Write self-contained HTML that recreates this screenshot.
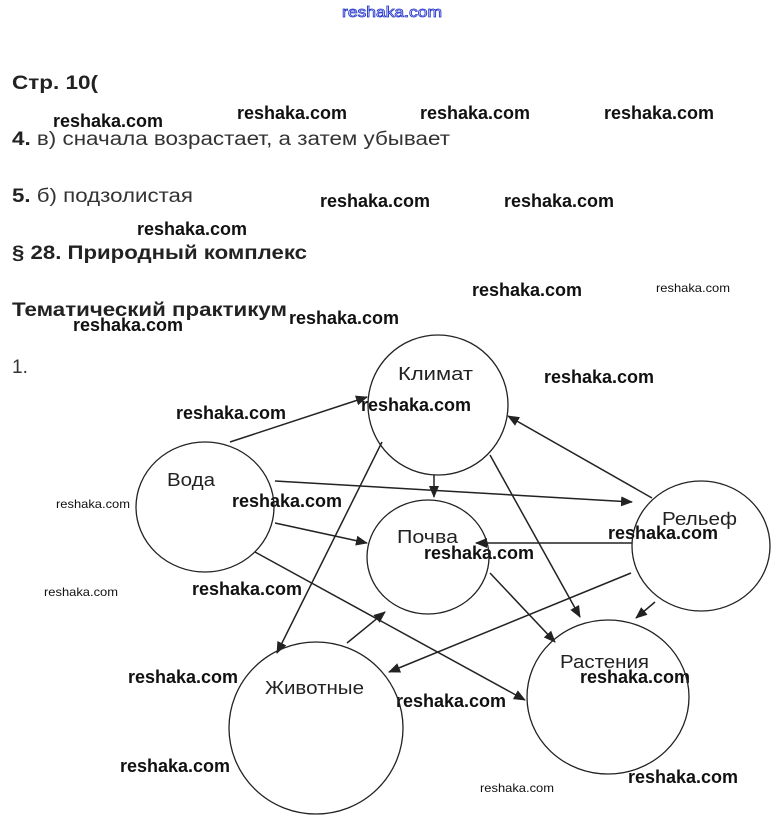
<!DOCTYPE html>
<html><head><meta charset="utf-8"><style>
html,body{margin:0;padding:0;background:#fff;}
svg{display:block;}
.t{font-family:"Liberation Sans",Arial,sans-serif;fill:#333;font-size:19px;}
.b{font-weight:bold;fill:#222;}
.w{font-family:"Liberation Sans",Arial,sans-serif;font-weight:bold;font-size:18px;fill:#111;}
.ws{font-family:"Liberation Sans",Arial,sans-serif;font-size:12px;fill:#111;}
.n{font-family:"Liberation Sans",Arial,sans-serif;font-size:18px;fill:#222;}
</style></head><body>
<svg width="779" height="832" viewBox="0 0 779 832" xmlns="http://www.w3.org/2000/svg">
<defs><marker id="a" markerWidth="12" markerHeight="10" refX="11" refY="5" orient="auto" markerUnits="userSpaceOnUse"><path d="M0,0 L12,5 L0,10 z" fill="#222"/></marker></defs>
<text x="342" y="17" font-family="Liberation Sans,sans-serif" font-size="15" fill="none" stroke="#2233cc" stroke-width="0.8" textLength="100" lengthAdjust="spacingAndGlyphs">reshaka.com</text>

<text class="t b" x="12" y="89" textLength="86" lengthAdjust="spacingAndGlyphs">Стр. 10(</text>
<text class="t" x="12" y="145" textLength="438" lengthAdjust="spacingAndGlyphs"><tspan class="b">4.</tspan> в) сначала возрастает, а затем убывает</text>
<text class="t" x="12" y="202" textLength="181" lengthAdjust="spacingAndGlyphs"><tspan class="b">5.</tspan> б) подзолистая</text>
<text class="t b" x="12" y="259" textLength="295" lengthAdjust="spacingAndGlyphs">§ 28. Природный комплекс</text>
<text class="t b" x="12" y="316" textLength="275" lengthAdjust="spacingAndGlyphs">Тематический практикум</text>
<text class="t" x="12" y="373">1.</text>

<g class="w">
<text x="53" y="127" textLength="110" lengthAdjust="spacingAndGlyphs">reshaka.com</text>
<text x="237" y="119" textLength="110" lengthAdjust="spacingAndGlyphs">reshaka.com</text>
<text x="420" y="119" textLength="110" lengthAdjust="spacingAndGlyphs">reshaka.com</text>
<text x="604" y="119" textLength="110" lengthAdjust="spacingAndGlyphs">reshaka.com</text>
<text x="320" y="207" textLength="110" lengthAdjust="spacingAndGlyphs">reshaka.com</text>
<text x="504" y="207" textLength="110" lengthAdjust="spacingAndGlyphs">reshaka.com</text>
<text x="137" y="235" textLength="110" lengthAdjust="spacingAndGlyphs">reshaka.com</text>
<text x="472" y="296" textLength="110" lengthAdjust="spacingAndGlyphs">reshaka.com</text>
<text x="289" y="324" textLength="110" lengthAdjust="spacingAndGlyphs">reshaka.com</text>
<text x="73" y="331" textLength="110" lengthAdjust="spacingAndGlyphs">reshaka.com</text>
<text x="544" y="383" textLength="110" lengthAdjust="spacingAndGlyphs">reshaka.com</text>
<text x="176" y="419" textLength="110" lengthAdjust="spacingAndGlyphs">reshaka.com</text>
<text x="361" y="411" textLength="110" lengthAdjust="spacingAndGlyphs">reshaka.com</text>
<text x="232" y="507" textLength="110" lengthAdjust="spacingAndGlyphs">reshaka.com</text>
<text x="192" y="595" textLength="110" lengthAdjust="spacingAndGlyphs">reshaka.com</text>
<text x="424" y="559" textLength="110" lengthAdjust="spacingAndGlyphs">reshaka.com</text>
<text x="608" y="539" textLength="110" lengthAdjust="spacingAndGlyphs">reshaka.com</text>
<text x="128" y="683" textLength="110" lengthAdjust="spacingAndGlyphs">reshaka.com</text>
<text x="580" y="683" textLength="110" lengthAdjust="spacingAndGlyphs">reshaka.com</text>
<text x="396" y="707" textLength="110" lengthAdjust="spacingAndGlyphs">reshaka.com</text>
<text x="120" y="772" textLength="110" lengthAdjust="spacingAndGlyphs">reshaka.com</text>
<text x="628" y="783" textLength="110" lengthAdjust="spacingAndGlyphs">reshaka.com</text>
</g>
<g class="ws">
<text x="656" y="292" textLength="74" lengthAdjust="spacingAndGlyphs">reshaka.com</text>
<text x="56" y="508" textLength="74" lengthAdjust="spacingAndGlyphs">reshaka.com</text>
<text x="44" y="596" textLength="74" lengthAdjust="spacingAndGlyphs">reshaka.com</text>
<text x="480" y="792" textLength="74" lengthAdjust="spacingAndGlyphs">reshaka.com</text>
</g>

<g fill="none" stroke="#222" stroke-width="1.3">
<ellipse cx="438" cy="405" rx="70" ry="70"/>
<ellipse cx="205" cy="507" rx="69" ry="65"/>
<ellipse cx="428" cy="557" rx="61" ry="57"/>
<ellipse cx="701" cy="546" rx="69" ry="65"/>
<ellipse cx="608" cy="697" rx="81" ry="77"/>
<ellipse cx="316" cy="728" rx="87" ry="86"/>
</g>
<g stroke="#222" stroke-width="1.5" marker-end="url(#a)">
<line x1="230" y1="442" x2="367" y2="397"/>
<line x1="275" y1="481" x2="632" y2="502"/>
<line x1="275" y1="523" x2="367" y2="543"/>
<line x1="255" y1="552" x2="525" y2="700"/>
<line x1="434" y1="475" x2="434" y2="497"/>
<line x1="382" y1="442" x2="277" y2="653"/>
<line x1="490" y1="455" x2="580" y2="617"/>
<line x1="652" y1="498" x2="508" y2="416"/>
<line x1="632" y1="543" x2="476" y2="543"/>
<line x1="631" y1="573" x2="389" y2="672"/>
<line x1="655" y1="602" x2="636" y2="618"/>
<line x1="490" y1="573" x2="555" y2="642"/>
<line x1="347" y1="643" x2="385" y2="612"/>
</g>
<g class="n">
<text x="398" y="380" textLength="75" lengthAdjust="spacingAndGlyphs">Климат</text>
<text x="167" y="486" textLength="48" lengthAdjust="spacingAndGlyphs">Вода</text>
<text x="397" y="543" textLength="61" lengthAdjust="spacingAndGlyphs">Почва</text>
<text x="662" y="525" textLength="75" lengthAdjust="spacingAndGlyphs">Рельеф</text>
<text x="560" y="668" textLength="89" lengthAdjust="spacingAndGlyphs">Растения</text>
<text x="265" y="694" textLength="99" lengthAdjust="spacingAndGlyphs">Животные</text>
</g>
</svg>
</body></html>
